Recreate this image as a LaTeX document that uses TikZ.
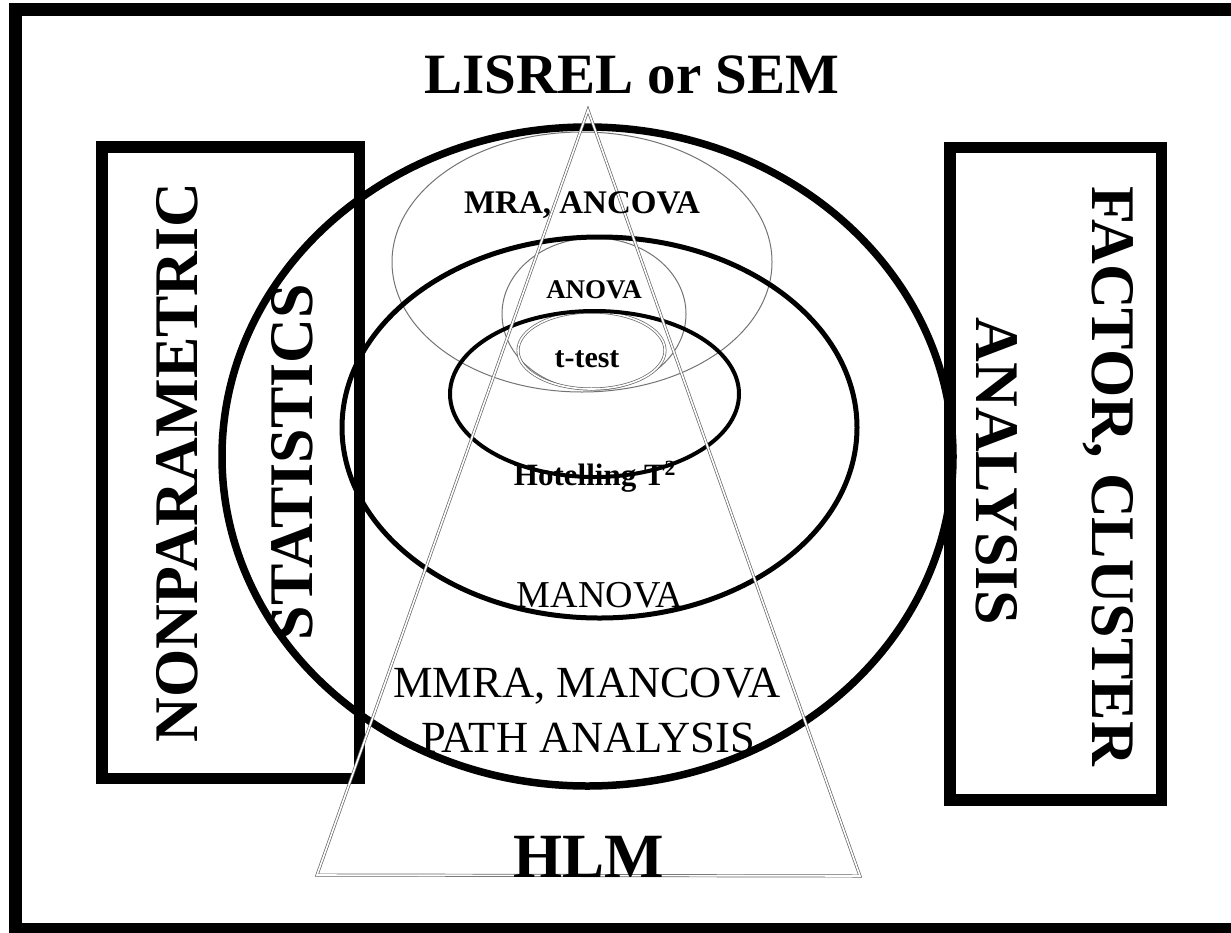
\documentclass[tikz,border=0pt]{standalone}
\usepackage{fontspec}
\setmainfont{Liberation Serif}
\newcommand{\fsz}[1]{\fontsize{#1}{#1}\selectfont}
\begin{document}
\begin{tikzpicture}[x=1pt, y=-1pt,
    heavy/.style={line width=7.5pt},
    medium/.style={line width=5pt},
    faint/.style={draw=black!55, line width=1pt},
    twin/.style={draw=black!60, double=white, double distance=1.6pt, line width=0.7pt},
    boxline/.style={line width=11.5pt},
    lbl/.style={inner sep=0pt, anchor=base, font=\bfseries}]
  \useasboundingbox (0,0) rectangle (1231,932);
  % frame (its right side runs off the page) and the two side boxes
  \draw[line width=13pt] (1250,9) -- (15.5,9) -- (15.5,929.5) -- (1250,929.5);
  \draw[boxline] (102,147) rectangle (359.5,778.5);
  \draw[boxline] (950,147.5) rectangle (1161.5,800);
  % nested rings
  \draw[faint] (582,262) ellipse [x radius=190, y radius=130];
  \draw[faint] (594,314) ellipse [x radius=92, y radius=76];
  \draw[twin] (591.5,350.5) ellipse [x radius=73.5, y radius=38.5];
  \draw[heavy] (587.5,456.5) ellipse [x radius=365.5, y radius=329.5];
  \draw[medium] (599.5,427.5) ellipse [x radius=257.5, y radius=190.5];
  \draw[line width=4pt] (594.5,394) ellipse [x radius=144.5, y radius=83];
  % triangle
  \coordinate (apex) at (588,110);
  \coordinate (baseL) at (317,875);
  \coordinate (baseR) at (860,876);
  \draw[twin] (apex) -- (baseR) -- (baseL) -- cycle;
  % labels
  \node[lbl, font=\bfseries\fsz{57}] (sem) at (632,93) {LISREL or SEM};
  \node[lbl, font=\bfseries\fsz{33}] (mra) at (582,213) {MRA, ANCOVA};
  \node[lbl, font=\bfseries\fsz{27}] (anova) at (594,298) {ANOVA};
  \node[lbl, font=\bfseries\fsz{30}] (ttest) at (587,367) {t-test};
  \node[lbl, font=\bfseries\fsz{31}] (hotel) at (595,485) {Hotelling T\textsuperscript{2}};
  \node[lbl, font=\fsz{38}] (manova) at (600,607) {MANOVA};
  \node[lbl, font=\fsz{44.5}] (mmra) at (587,697) {MMRA, MANCOVA};
  \node[lbl, font=\fsz{44.5}] (path) at (588,752) {PATH ANALYSIS};
  \node[lbl, font=\bfseries\fsz{63}] (hlm) at (588.5,877) {HLM};
  \node[lbl, font=\bfseries\fsz{62}, rotate=90] (nonpar) at (197,462.5) {NONPARAMETRIC};
  \node[lbl, font=\bfseries\fsz{62}, rotate=90] (stats) at (312,462) {STATISTICS};
  \node[lbl, font=\bfseries\fsz{62}, rotate=-90] (factor) at (1092,476) {FACTOR, CLUSTER};
  \node[lbl, font=\bfseries\fsz{62}, rotate=-90] (anal) at (976,471.5) {ANALYSIS};
\end{tikzpicture}
\end{document}
